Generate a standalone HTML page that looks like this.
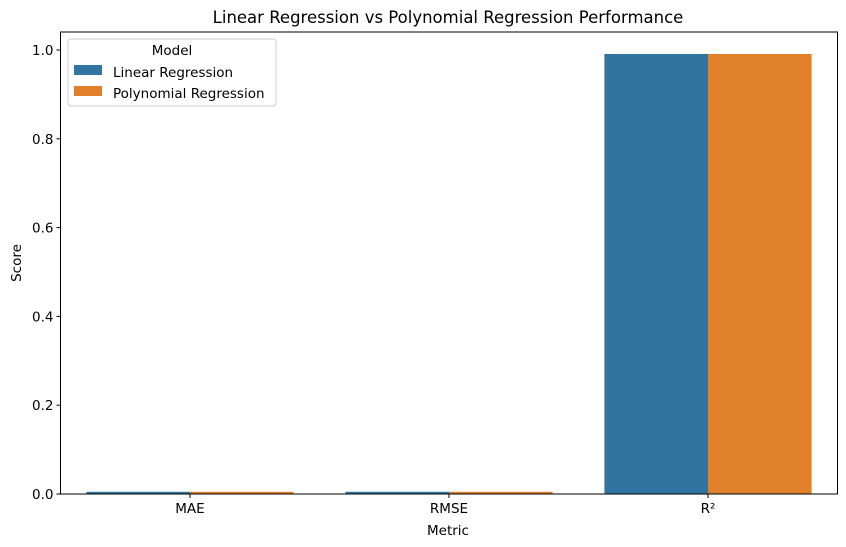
<!DOCTYPE html>
<html><head><meta charset="utf-8"><style>
body{margin:0;background:#fff;}
svg{display:block;font-family:"DejaVu Sans","Liberation Sans",sans-serif;}
</style></head><body>
<svg id="chart" width="846" height="547" viewBox="0 0 846 547">
<text x="448" y="23" font-size="16.5" text-anchor="middle" fill="#000">Linear Regression vs Polynomial Regression Performance</text>
<g id="bars"></g>
<g id="axes"></g>
<text x="448" y="535" font-size="13.5" text-anchor="middle">Metric</text>
<text transform="translate(21,263) rotate(-90)" font-size="13.5" text-anchor="middle">Score</text>
<g>
<rect x="68" y="39" width="208" height="67" rx="3" fill="#fff" fill-opacity="0.8" stroke="#ccc"/>
<text x="172" y="55" font-size="13.5" text-anchor="middle">Model</text>
<rect x="74" y="65" width="28" height="10" fill="#3274a1"/>
<text x="113" y="77" font-size="13.5">Linear Regression</text>
<rect x="74" y="86" width="28" height="10" fill="#e1812c"/>
<text x="113" y="98" font-size="13.5">Polynomial Regression</text>
</g>
</svg>
<script>
const categories=["MAE","RMSE","R²"];
const linearValues=[0.005,0.005,0.991];
const polyValues=[0.005,0.005,0.991];
const yTicks=[0,0.2,0.4,0.6,0.8,1.0];
const yTickLabels=["0.0","0.2","0.4","0.6","0.8","1.0"];
const L=60.5,R=837.5,T=32,B=494,yMax=(B-T)/444;
const NS="http://www.w3.org/2000/svg";
const xs=i=>L+(R-L)*(i+0.5)/categories.length;
const bw=(R-L)/categories.length*0.4;
const ys=v=>B-(v/yMax)*(B-T);
const bars=document.getElementById('bars'),axes=document.getElementById('axes');
function mk(tag,attrs,parent){const e=document.createElementNS(NS,tag);for(const k in attrs)e.setAttribute(k,attrs[k]);parent.appendChild(e);return e;}
categories.forEach((c,i)=>{
  const a=mk('rect',{x:xs(i)-bw,y:ys(linearValues[i]),width:bw,height:B-ys(linearValues[i]),fill:'#3274a1'},bars);
  
  
  const b=mk('rect',{x:xs(i),y:ys(polyValues[i]),width:bw,height:B-ys(polyValues[i]),fill:'#e1812c'},bars);
  
  
  mk('line',{x1:xs(i),x2:xs(i),y1:B,y2:B+4,stroke:'#000'},axes);
  const t=mk('text',{x:xs(i),y:B+19,'font-size':13.5,'text-anchor':'middle'},axes);
  t.textContent=c;
  
  
});
yTicks.forEach((v,i)=>{
  mk('line',{x1:L-4,x2:L,y1:ys(v),y2:ys(v),stroke:'#000'},axes);
  const t=mk('text',{x:L-7,y:ys(v)+5,'font-size':13.5,'text-anchor':'end'},axes);
  t.textContent=yTickLabels[i];
  
  
});
const f=mk('rect',{x:L,y:T,width:R-L,height:B-T,fill:'none',stroke:'#000','stroke-width':1},axes);


</script>
</body></html>
